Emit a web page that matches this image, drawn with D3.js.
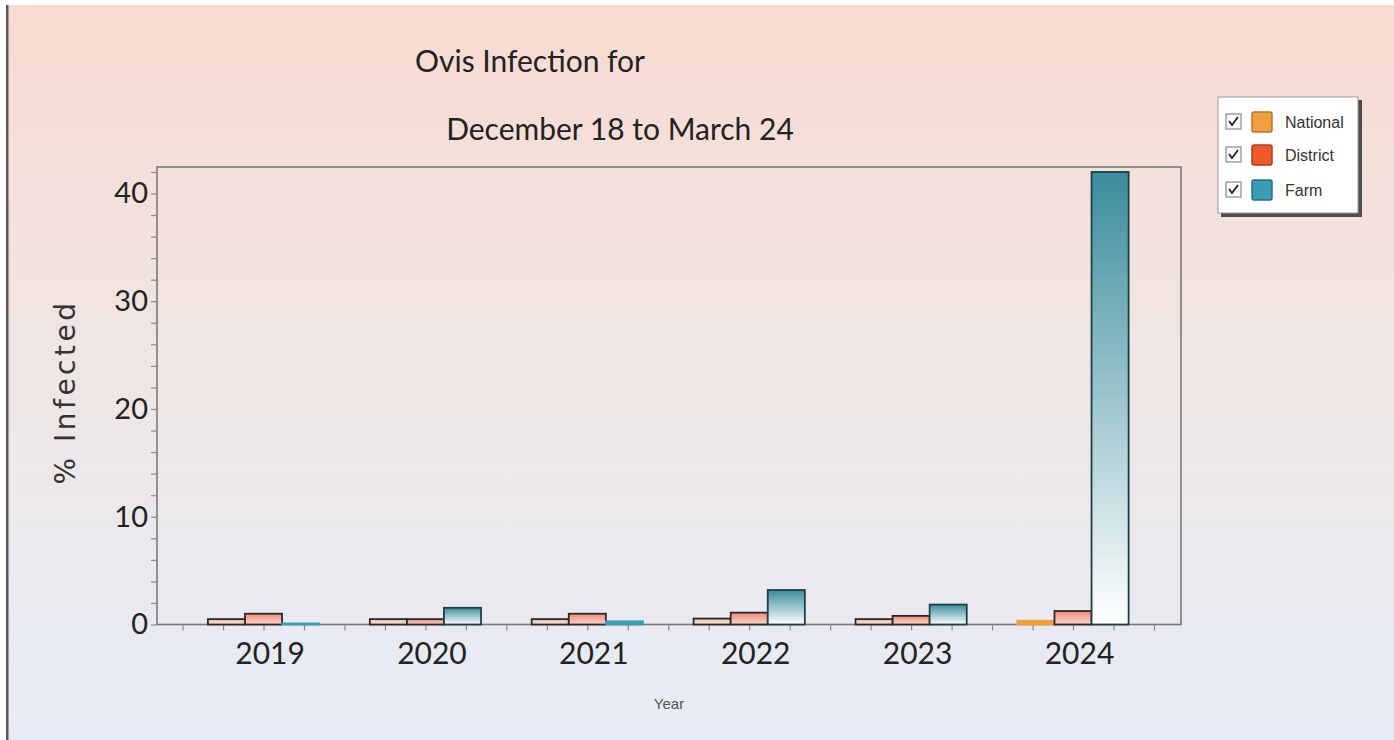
<!DOCTYPE html>
<html>
<head>
<meta charset="utf-8">
<script src="https://cdn.jsdelivr.net/npm/d3@7/dist/d3.min.js"></script>
<style>
  html, body { margin: 0; padding: 0; background: #ffffff; }
  svg { display: block; }
</style>
</head>
<body>
<svg id="chart" width="1394" height="740"></svg>
<script>
// ---- data ----
const years = [2019, 2020, 2021, 2022, 2023, 2024];
const seriesNames = ["National", "District", "Farm"];
const national = [0.5, 0.5, 0.5, 0.55, 0.5, 0.35];
const district = [1.0, 0.5, 1.0, 1.1, 0.8, 1.25];
const farm = [0.1, 1.55, 0.3, 3.2, 1.85, 42.0];
const yTicks = [0, 10, 20, 30, 40];
const titleText = "Ovis Infection for";
const subtitleText = "December 18 to March 24";
const yLabel = "% Infected";
const xLabel = "Year";

const seriesValues = [national, district, farm];

const svg = d3.select("#chart");
const W = 1394, H = 740;
const defs = svg.append("defs");

// page background gradient
const bg = defs.append("linearGradient").attr("id", "bg").attr("x1", 0).attr("y1", 0).attr("x2", 0).attr("y2", 1);
bg.append("stop").attr("offset", "0%").attr("stop-color", "#f9dbd2");
bg.append("stop").attr("offset", "50%").attr("stop-color", "#efe6e4");
bg.append("stop").attr("offset", "100%").attr("stop-color", "#e6ecf7");

svg.append("rect").attr("x", 6).attr("y", 5).attr("width", W - 6).attr("height", H - 5).attr("fill", "url(#bg)");
svg.append("rect").attr("x", 6).attr("y", 5).attr("width", 2.5).attr("height", H - 5).attr("fill", "#5a5a5a");

// bar gradients
function grad(id, top, bottom) {
  const g = defs.append("linearGradient").attr("id", id).attr("x1", 0).attr("y1", 0).attr("x2", 0).attr("y2", 1);
  g.append("stop").attr("offset", "0%").attr("stop-color", top);
  g.append("stop").attr("offset", "100%").attr("stop-color", bottom);
}
grad("gNat", "#e9c2a8", "#f8e6da");
grad("gDis", "#f08a78", "#fcd6c8");
grad("gFarm", "#3a8c9c", "#ffffff");
const fills = ["url(#gNat)", "url(#gDis)", "url(#gFarm)"];
const strokes = ["#2a2a2a", "#2a2a2a", "#1f3f46"];
const swatch = ["#f0a03c", "#f0582a", "#3a9cb4"];
const swatchStroke = ["#b0763a", "#a9401e", "#2a6f80"];

// plot frame
const frame = { left: 157, right: 1181, top: 167, bottom: 624.5 };

const x = d3.scaleLinear()
  .domain([2018.342, 2024.667])
  .range([frame.left, frame.right]);
const y = d3.scaleLinear()
  .domain([0, 40])
  .range([frame.bottom, 193.5]);

const unit = x(1) - x(0);
const bw = unit * 0.229;

// frame
svg.append("rect")
  .attr("x", frame.left).attr("y", frame.top)
  .attr("width", frame.right - frame.left).attr("height", frame.bottom - frame.top)
  .attr("fill", "none").attr("stroke", "#7a7a7a").attr("stroke-width", 1.6);

// y axis
const yAxis = d3.axisLeft(y)
  .tickValues(d3.range(0, 42.1, 2))
  .tickSize(6)
  .tickFormat(d => yTicks.includes(d) ? d : "");
const gy = svg.append("g").attr("transform", `translate(${frame.left},0)`).call(yAxis);
gy.select(".domain").remove();
gy.selectAll(".tick line").attr("stroke", "#8a8a8a").attr("stroke-width", 1.2);
gy.selectAll(".tick text")
  .attr("font-family", "Lato, 'Open Sans', sans-serif")
  .attr("font-size", 29)
  .attr("fill", "#222")
  .attr("x", -9);

// x axis
const xAxis = d3.axisBottom(x)
  .tickValues(d3.range(2018.5, 2024.51, 0.25))
  .tickSize(6)
  .tickFormat(d => years.includes(d) ? d : "");
const gx = svg.append("g").attr("transform", `translate(0,${frame.bottom})`).call(xAxis);
gx.select(".domain").remove();
gx.selectAll(".tick line").attr("stroke", "#8a8a8a").attr("stroke-width", 1.2);
gx.selectAll(".tick text")
  .attr("font-family", "Lato, 'Open Sans', sans-serif")
  .attr("font-size", 30)
  .attr("fill", "#222")
  .attr("dx", 6)
  .attr("y", 18)
  .attr("dy", "0.71em");

// bars
seriesValues.forEach((vals, si) => {
  svg.append("g").selectAll("rect")
    .data(years.map((yr, i) => ({ yr, v: vals[i] })))
    .join("rect")
    .attr("x", d => x(d.yr) - 1.5 * bw + si * bw)
    .attr("y", d => y(d.v))
    .attr("width", bw)
    .attr("height", d => y(0) - y(d.v))
    .attr("fill", d => (y(0) - y(d.v)) < 4 ? swatch[si] : fills[si])
    .attr("stroke", d => (y(0) - y(d.v)) < 4 ? swatch[si] : strokes[si])
    .attr("stroke-width", 1.8);
});

// titles
svg.append("text").attr("x", 415).attr("y", 72)
  .attr("font-family", "Lato, 'Open Sans', sans-serif").attr("font-size", 30)
  .attr("fill", "#222").text(titleText);
svg.append("text").attr("x", 620).attr("y", 140).attr("text-anchor", "middle")
  .attr("font-family", "Lato, 'Open Sans', sans-serif").attr("font-size", 30)
  .attr("fill", "#222").text(subtitleText);

// axis labels
svg.append("text")
  .attr("transform", "translate(75,392) rotate(-90)")
  .attr("text-anchor", "middle")
  .attr("font-family", "'DejaVu Sans', sans-serif").attr("font-size", 28)
  .attr("letter-spacing", 3.5)
  .attr("fill", "#333").text(yLabel);
svg.append("text").attr("x", 669).attr("y", 709).attr("text-anchor", "middle")
  .attr("font-family", "'Liberation Sans', Arial, sans-serif").attr("font-size", 15)
  .attr("fill", "#555").text(xLabel);

// legend
const lg = svg.append("g").attr("transform", "translate(1218,97)");
lg.append("rect").attr("x", 3).attr("y", 3).attr("width", 141).attr("height", 117).attr("fill", "#333").attr("opacity", 0.85);
lg.append("rect").attr("x", 0).attr("y", 0).attr("width", 140).attr("height", 116)
  .attr("fill", "#ffffff").attr("stroke", "#9a9a9a").attr("stroke-width", 1);
const rowsY = [25, 58, 93];
seriesNames.forEach((name, i) => {
  const r = lg.append("g").attr("transform", `translate(0,${rowsY[i]})`);
  r.append("rect").attr("x", 8).attr("y", -8).attr("width", 15).attr("height", 15)
    .attr("fill", "#fafafa").attr("stroke", "#8a8a8a").attr("stroke-width", 1.2);
  r.append("path").attr("d", "M11,-1 L14,3 L20,-5").attr("fill", "none")
    .attr("stroke", "#222").attr("stroke-width", 1.8);
  r.append("rect").attr("x", 34).attr("y", -10).attr("width", 20).attr("height", 20).attr("rx", 2)
    .attr("fill", swatch[i]).attr("stroke", swatchStroke[i]).attr("stroke-width", 1.5);
  r.append("text").attr("x", 67).attr("y", 6)
    .attr("font-family", "'Liberation Sans', Arial, sans-serif").attr("font-size", 16)
    .attr("fill", "#333").text(name);
});
</script>
</body>
</html>
